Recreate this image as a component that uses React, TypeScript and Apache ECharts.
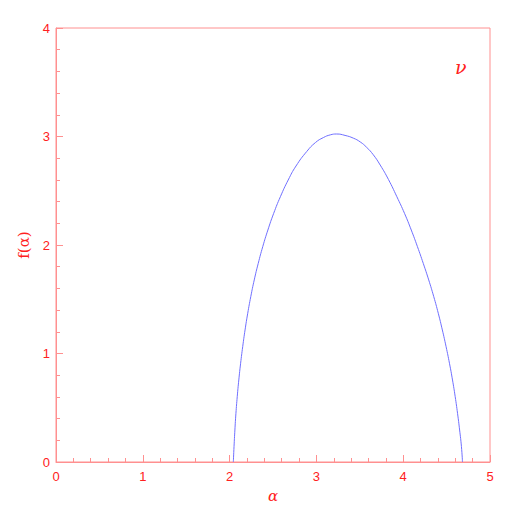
import React, { useEffect, useRef } from "react";
import * as echarts from "echarts";

const alphaValues = [
  2.043, 2.051, 2.061, 2.073, 2.088, 2.106, 2.127, 2.151, 2.178, 2.209, 2.244, 2.284, 2.33, 2.382, 2.441, 2.508, 2.585, 2.675, 2.765, 2.888, 2.99, 3.08, 3.16, 3.234,
  3.33, 3.425, 3.505, 3.579, 3.655, 3.735, 3.83, 3.927, 4.015, 4.093, 4.164, 4.231, 4.294, 4.352, 4.404, 4.451, 4.494, 4.533, 4.568, 4.599, 4.626, 4.65, 4.671, 4.683,
];
const fValues = [
  0, 0.141, 0.295, 0.449, 0.602, 0.756, 0.91, 1.063, 1.217, 1.371, 1.524, 1.678, 1.831, 1.985, 2.138, 2.292, 2.445, 2.599, 2.728, 2.861, 2.945, 2.99, 3.015, 3.023,
  3.01, 2.985, 2.95, 2.9, 2.832, 2.737, 2.604, 2.445, 2.292, 2.138, 1.985, 1.831, 1.678, 1.524, 1.371, 1.217, 1.063, 0.91, 0.756, 0.602, 0.449, 0.295, 0.141, 0,
];
const xTickLabels = ["0", "1", "2", "3", "4", "5"];
const yTickLabels = ["0", "1", "2", "3", "4"];

const lineColor = "#ff9090";
const textColor = "#ff2020";

export default function App() {
  const ref = useRef<HTMLDivElement>(null);
  useEffect(() => {
    if (!ref.current) return;
    const chart = echarts.init(ref.current, null, { renderer: "svg" });
    const data = alphaValues.map((a, i) => [a, fValues[i]]);
    chart.setOption({
      animation: false,
      backgroundColor: "#ffffff",
      grid: {
        left: 56,
        top: 28,
        width: 434,
        height: 434,
        show: true,
        borderColor: lineColor,
        borderWidth: 1,
        backgroundColor: "transparent",
      },
      xAxis: {
        type: "value",
        min: 0,
        max: 5,
        interval: 1,
        name: "α",
        nameLocation: "middle",
        nameGap: 26,
        nameTextStyle: { color: textColor, fontSize: 15, fontFamily: "DejaVu Serif", fontStyle: "italic" },
        axisLine: { show: true, lineStyle: { color: lineColor, width: 1 } },
        axisTick: { show: true, inside: true, length: 7, lineStyle: { color: lineColor } },
        minorTick: { show: true, splitNumber: 5, length: 4, lineStyle: { color: lineColor } },
        splitLine: { show: false },
        axisLabel: {
          color: textColor,
          fontSize: 13,
          fontFamily: "Liberation Sans",
          margin: 8,
          formatter: (v: number) => xTickLabels[Math.round(v)] ?? "",
        },
      },
      yAxis: {
        type: "value",
        min: 0,
        max: 4,
        interval: 1,
        name: "f(α)",
        nameLocation: "middle",
        nameGap: 24,
        nameTextStyle: { color: textColor, fontSize: 15, fontFamily: "DejaVu Serif" },
        axisLine: { show: true, lineStyle: { color: lineColor, width: 1 } },
        axisTick: { show: true, inside: true, length: 7, lineStyle: { color: lineColor } },
        minorTick: { show: true, splitNumber: 5, length: 4, lineStyle: { color: lineColor } },
        splitLine: { show: false },
        axisLabel: {
          color: textColor,
          fontSize: 13,
          fontFamily: "Liberation Sans",
          margin: 6,
          formatter: (v: number) => yTickLabels[Math.round(v)] ?? "",
        },
      },
      graphic: [
        {
          type: "text",
          left: 455,
          top: 57,
          style: {
            text: "ν",
            fill: textColor,
            font: "italic 19px 'DejaVu Serif'",
          },
        },
      ],
      series: [
        {
          type: "line",
          data,
          smooth: 0.5,
          showSymbol: false,
          lineStyle: { color: "#6f6fff", width: 1 },
        },
      ],
    });
    return () => chart.dispose();
  }, []);
  return (
    <div
      ref={ref}
      style={{ position: "fixed", left: 0, top: 0, width: 518, height: 518 }}
    />
  );
}
